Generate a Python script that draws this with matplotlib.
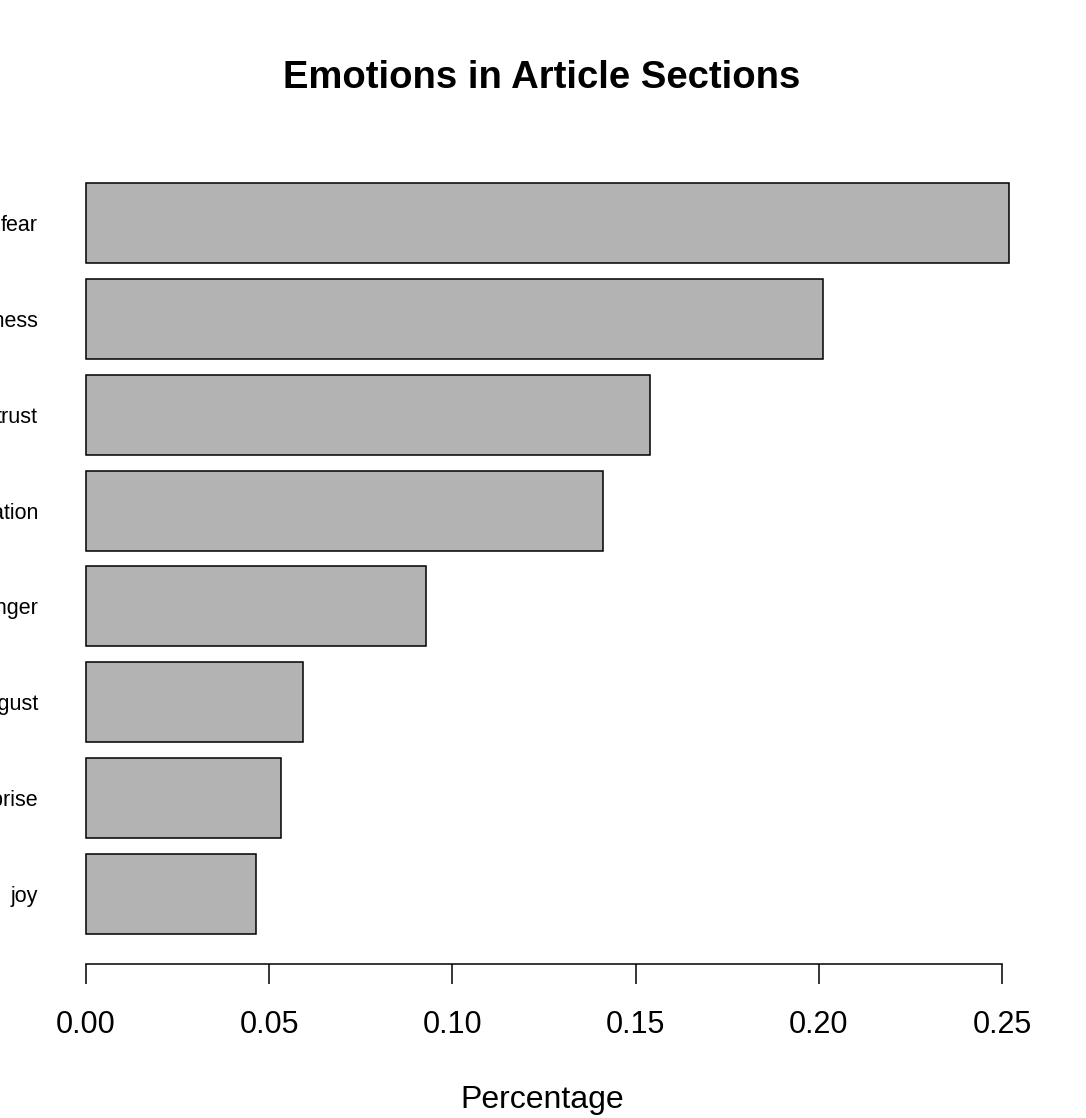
import matplotlib.pyplot as plt
import numpy as np

plt.rcParams['font.family'] = ['Liberation Sans', 'DejaVu Sans']

# emotion shares, bottom to top as drawn
emotions = ['joy', 'surprise', 'disgust', 'anger', 'anticipation', 'trust', 'sadness', 'fear']
share = [0.0464, 0.0532, 0.0592, 0.0928, 0.1411, 0.1539, 0.2011, 0.2519]
xticks = [0.00, 0.05, 0.10, 0.15, 0.20, 0.25]

W, H = 1086, 1118
fig = plt.figure(figsize=(W / 100, H / 100), dpi=100)
ax = fig.add_axes([49.4 / W, (H - 964) / H, (1046 - 49.4) / W, (964 - 153) / H])

ypos = 0.7 + 1.2 * np.arange(len(emotions))
ax.barh(ypos, share, height=1.0, color='#b3b3b3', edgecolor='black', linewidth=1.1)

ax.set_xlim(-0.01, 0.262)
ax.set_ylim(-0.175, 9.975)

for s in ['top', 'right', 'left']:
    ax.spines[s].set_visible(False)
ax.spines['bottom'].set_bounds(0, 0.25)
ax.spines['bottom'].set_linewidth(1.1)

ax.set_xticks(xticks)
ax.set_xticklabels([f'{t:.2f}' for t in xticks], fontsize=22)
ax.tick_params(axis='x', length=14.4, width=1.1, pad=19)

# names sit close to the left edge and get cut, like the original
ax.set_yticks(ypos)
ax.set_yticklabels(emotions, fontsize=15.5)
ax.tick_params(axis='y', length=0, pad=8.2)

fig.text(542 / W, 1 - 78 / H, 'Emotions in Article Sections', ha='center', va='center',
         fontsize=27.5, fontweight='bold')
fig.text(542 / W, 1 - 1100 / H, 'Percentage', ha='center', va='center', fontsize=23)

fig.savefig('out.png', dpi=100)
